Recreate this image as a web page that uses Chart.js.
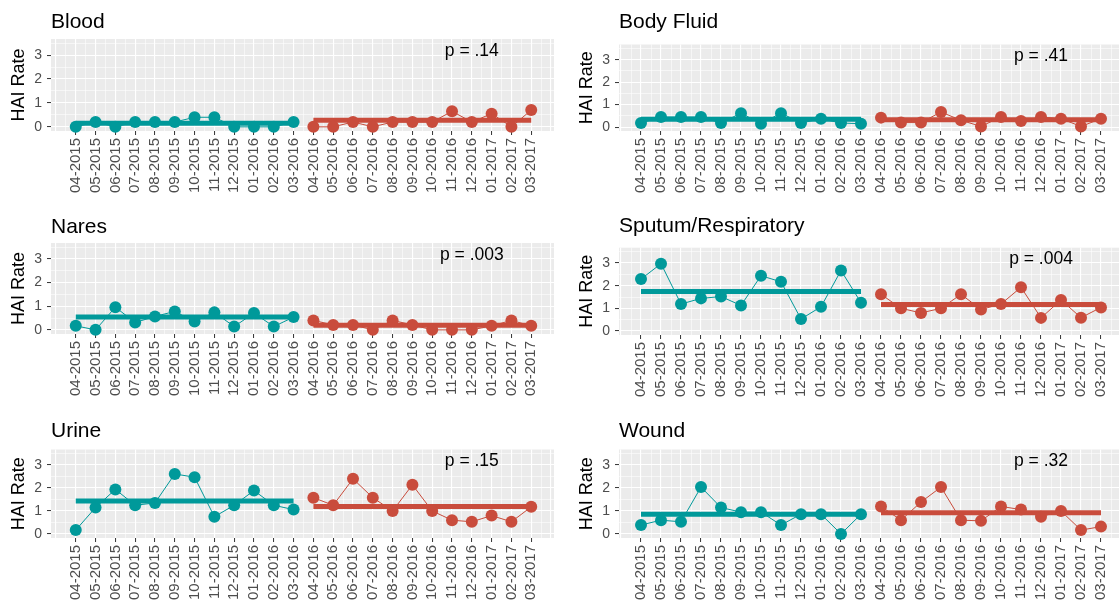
<!DOCTYPE html>
<html><head><meta charset="utf-8">
<script src="https://cdn.jsdelivr.net/npm/chart.js@4.4.0/dist/chart.umd.min.js"></script>
<style>
html,body{margin:0;padding:0;background:#fff;width:1119px;height:607px;overflow:hidden;}
#wrap{position:relative;width:1119px;height:607px;overflow:hidden;background:#fff;}
.pn{position:absolute;}
canvas{display:block;}
</style></head><body><div id="wrap"></div>
<script>
// ---------- data ----------
const MONTHS = ['04-2015','05-2015','06-2015','07-2015','08-2015','09-2015','10-2015','11-2015','12-2015','01-2016','02-2016','03-2016',
                '04-2016','05-2016','06-2016','07-2016','08-2016','09-2016','10-2016','11-2016','12-2016','01-2017','02-2017','03-2017'];
const TITLES = ['Blood','Body Fluid','Nares','Sputum/Respiratory','Urine','Wound'];
const P_LABELS = ['p = .14','p = .41','p = .003','p = .004','p = .15','p = .32'];
const Y_LABELS = [0,1,2,3];
const Y_TITLE = 'HAI Rate';

const BLOOD_PRE  = [0,0.2,0,0.2,0.2,0.2,0.4,0.4,0,0,0,0.2];
const BLOOD_POST = [0,0,0.2,0,0.2,0.2,0.2,0.65,0.2,0.55,0,0.7];
const FLUID_PRE  = [0.18,0.45,0.45,0.45,0.18,0.62,0.15,0.62,0.18,0.37,0.18,0.15];
const FLUID_POST = [0.42,0.2,0.2,0.67,0.3,0.03,0.45,0.27,0.45,0.37,0.03,0.37];
const NARES_PRE  = [0.17,0,0.96,0.31,0.57,0.78,0.35,0.74,0.14,0.71,0.14,0.54];
const NARES_POST = [0.4,0.21,0.21,0,0.4,0.21,0,0,0,0.17,0.4,0.17];
const SPUTUM_PRE  = [2.29,2.97,1.19,1.44,1.52,1.13,2.44,2.17,0.53,1.07,2.67,1.25];
const SPUTUM_POST = [1.62,1.0,0.8,1.0,1.62,0.95,1.19,1.93,0.58,1.37,0.59,1.04];
const URINE_PRE  = [0.17,1.15,1.94,1.25,1.35,2.61,2.47,0.75,1.25,1.89,1.25,1.06];
const URINE_POST = [1.58,1.25,2.4,1.58,1.0,2.14,1.0,0.6,0.53,0.8,0.53,1.18];
const WOUND_PRE  = [0.39,0.6,0.53,2.04,1.15,0.95,0.95,0.39,0.86,0.86,0,0.86];
const WOUND_POST = [1.2,0.6,1.39,2.04,0.6,0.57,1.2,1.06,0.75,1.0,0.17,0.32];

const MEAN_PRE  = [0.15,0.35,0.54,1.74,1.43,0.86];
const MEAN_POST = [0.28,0.33,0.20,1.17,1.20,0.92];

const PRE  = [BLOOD_PRE, FLUID_PRE, NARES_PRE, SPUTUM_PRE, URINE_PRE, WOUND_PRE];
const POST = [BLOOD_POST, FLUID_POST, NARES_POST, SPUTUM_POST, URINE_POST, WOUND_POST];

// ---------- layout / style ----------
const P_X = 20, P_Y = 3.15;
const Y_MIN = -0.175, Y_MAX = 3.675;
const TEAL = '#00999A', RED = '#C94C3C';
const FONT = "'Liberation Sans', Arial, Helvetica, sans-serif";
const TITLE_SIZE = 21, TITLE_LH = TITLE_SIZE * 1.2;
const AXT_SIZE = 18, AXT_LH = AXT_SIZE * 1.2;

const LAYOUT = [
  {left:0,   top:0,   w:560, h:200, plotL:51,  plotR:558,  plotT:39,    plotB:131, titleY:22,    axTitleX:19,    xmin:-1.25, xmax:24.15},
  {left:560, top:0,   w:570, h:200, plotL:619, plotR:1127, plotT:44.5,  plotB:131, titleY:22,    axTitleX:587.5, xmin:-1.1,  xmax:24.15},
  {left:0,   top:200, w:560, h:205, plotL:51,  plotR:558,  plotT:243,   plotB:334, titleY:227,   axTitleX:19,    xmin:-1.25, xmax:24.15},
  {left:560, top:200, w:570, h:205, plotL:619, plotR:1127, plotT:247.7, plotB:335, titleY:226.5, axTitleX:587.5, xmin:-1.1,  xmax:24.15},
  {left:0,   top:405, w:560, h:202, plotL:51,  plotR:558,  plotT:449.5, plotB:538, titleY:431,   axTitleX:19,    xmin:-1.25, xmax:24.15},
  {left:560, top:405, w:570, h:202, plotL:619, plotR:1127, plotT:449.5, plotB:538, titleY:431,   axTitleX:587.5, xmin:-1.1,  xmax:24.15},
];

const isInt = v => Math.abs(v - Math.round(v)) < 1e-6;

const panelBg = {
  id: 'panelBg',
  beforeDraw(chart) {
    const {ctx, chartArea: a} = chart;
    ctx.save();
    ctx.fillStyle = '#EBEBEB';
    ctx.fillRect(a.left, a.top, a.right - a.left, a.bottom - a.top);
    ctx.restore();
  }
};
const pText = {
  id: 'pText',
  afterDatasetsDraw(chart, args, opts) {
    const {ctx, scales: {x, y}} = chart;
    ctx.save();
    ctx.font = '17.5px ' + FONT;
    ctx.fillStyle = '#000';
    ctx.textAlign = 'center';
    ctx.textBaseline = 'middle';
    ctx.fillText(opts.text, x.getPixelForValue(P_X), y.getPixelForValue(P_Y));
    ctx.restore();
  }
};

const wrap = document.getElementById('wrap');

LAYOUT.forEach((L, k) => {
  const div = document.createElement('div');
  div.className = 'pn';
  div.style.left = L.left + 'px';
  div.style.top = L.top + 'px';
  div.style.width = L.w + 'px';
  div.style.height = L.h + 'px';
  const cv = document.createElement('canvas');
  cv.width = L.w; cv.height = L.h;
  cv.style.width = L.w + 'px'; cv.style.height = L.h + 'px';
  div.appendChild(cv);
  wrap.appendChild(div);

  const pre = PRE[k].map((v, i) => ({x: i, y: v}));
  const post = POST[k].map((v, i) => ({x: i + 12, y: v}));
  const mPre = [{x: 0, y: MEAN_PRE[k]}, {x: 11, y: MEAN_PRE[k]}];
  const mPost = [{x: 12, y: MEAN_POST[k]}, {x: 23, y: MEAN_POST[k]}];

  const pt = L.titleY - L.top - TITLE_LH / 2;
  const pb = L.plotT - L.top - pt - TITLE_LH;

  const lineDs = (data, col) => ({
    data, showLine: true, borderColor: col, backgroundColor: col, borderWidth: 1,
    pointRadius: 6, pointBorderWidth: 0, pointBackgroundColor: col, clip: false, order: 1
  });
  const meanDs = (data, col) => ({
    data, showLine: true, borderColor: col, borderWidth: 5, pointRadius: 0, clip: false, order: 2,
    borderCapStyle: 'butt'
  });

  new Chart(cv, {
    type: 'scatter',
    data: {
      datasets: [
        lineDs(pre, TEAL), lineDs(post, RED),
        meanDs(mPre, TEAL), meanDs(mPost, RED)
      ]
    },
    options: {
      responsive: false, animation: false, devicePixelRatio: 1,
      layout: {padding: {left: 0, top: 0, bottom: 0, right: (L.left + L.w) - L.plotR}},
      plugins: {
        legend: {display: false}, tooltip: {enabled: false},
        title: {display: true, text: TITLES[k], align: 'start', fullSize: false, color: '#000',
                font: {family: FONT, size: TITLE_SIZE, weight: 'normal', lineHeight: 1.2},
                padding: {top: pt, bottom: pb}},
        pText: {text: P_LABELS[k]}
      },
      scales: {
        x: {
          type: 'linear', min: L.xmin, max: L.xmax,
          afterFit(s) { s.height = (L.top + L.h) - L.plotB; s.paddingLeft = 0; s.paddingRight = 0; },
          border: {display: false},
          grid: {
            color: c => '#FFFFFF',
            lineWidth: c => isInt(c.tick.value) ? 1.1 : 0.55,
            tickColor: c => (isInt(c.tick.value) && c.tick.value >= 0 && c.tick.value <= 23) ? '#333333' : 'rgba(0,0,0,0)',
            tickLength: 4, tickWidth: 1
          },
          ticks: {
            stepSize: 0.5, includeBounds: false, autoSkip: false, maxRotation: 90, minRotation: 90,
            padding: 3, color: '#4D4D4D', font: {family: FONT, size: 15},
            callback: v => (isInt(v) && v >= 0 && v <= 23) ? MONTHS[Math.round(v)] : ''
          }
        },
        y: {
          type: 'linear', min: Y_MIN, max: Y_MAX,
          afterFit(s) { s.width = L.plotL - L.left; s.paddingTop = 0; s.paddingBottom = 0; },
          border: {display: false},
          grid: {
            color: c => '#FFFFFF',
            lineWidth: c => isInt(c.tick.value) ? 1.1 : 0.55,
            tickColor: c => (isInt(c.tick.value) && Y_LABELS.includes(Math.round(c.tick.value))) ? '#333333' : 'rgba(0,0,0,0)',
            tickLength: 4, tickWidth: 1
          },
          ticks: {
            stepSize: 0.5, includeBounds: false, autoSkip: false, padding: 5,
            color: '#4D4D4D', font: {family: FONT, size: 14},
            callback: v => (isInt(v) && Y_LABELS.includes(Math.round(v))) ? String(Math.round(v)) : ''
          },
          title: {display: true, text: Y_TITLE, color: '#000',
                  font: {family: FONT, size: AXT_SIZE, lineHeight: 1.2},
                  padding: {top: (L.axTitleX - L.left) - AXT_LH / 2, bottom: 0}}
        }
      }
    },
    plugins: [panelBg, pText]
  });
});
</script>
</body></html>
